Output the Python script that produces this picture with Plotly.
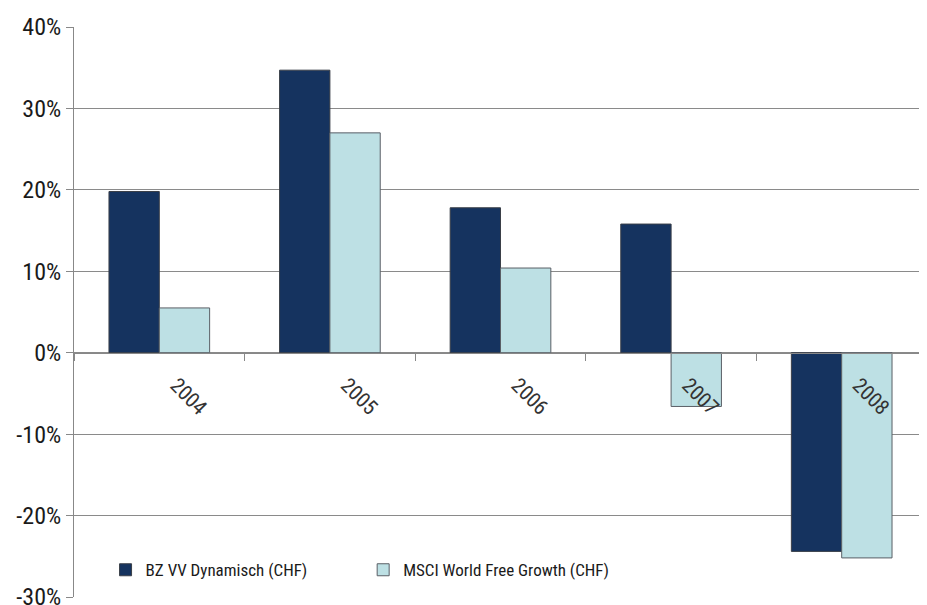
import plotly.graph_objects as go

years = ["2004", "2005", "2006", "2007", "2008"]
bz_values = [19.8, 34.7, 17.8, 15.8, -24.4]
msci_values = [5.5, 27.0, 10.4, -6.6, -25.2]
series_names = ["BZ VV Dynamisch (CHF)", "MSCI World Free Growth (CHF)"]
y_ticks = [-30, -20, -10, 0, 10, 20, 30, 40]
y_tick_labels = [f"{v}%" for v in y_ticks]

FONT = "Roboto Condensed"

fig = go.Figure()
fig.add_trace(go.Bar(x=years, y=bz_values, name=series_names[0], legend="legend",
                     marker=dict(color="#15335f", line=dict(color="#3a3f48", width=1))))
fig.add_trace(go.Bar(x=years, y=msci_values, name=series_names[1], legend="legend2",
                     marker=dict(color="#bde0e4", line=dict(color="#5a5f66", width=1))))

ymin, ymax = -30, 40
leg_common = dict(orientation="h", yanchor="middle", xanchor="left", y=0.047,
                  font=dict(size=17, family=FONT, color="#1a1a1a"),
                  bgcolor="rgba(0,0,0,0)", itemwidth=30)
fig.update_layout(
    width=919, height=597,
    margin=dict(l=66, r=0, t=19, b=8, autoexpand=False),
    paper_bgcolor="white", plot_bgcolor="white",
    barmode="group", bargap=0.41, bargroupgap=0,
    font=dict(family=FONT, color="#1a1a1a"),
    showlegend=True,
    legend=dict(x=0.037, **leg_common),
    legend2=dict(x=0.339, **leg_common),
    xaxis=dict(type="category", anchor="free",
               position=(0 - ymin) / (ymax - ymin),
               showline=True, linecolor="#888", linewidth=1,
               ticks="outside", ticklen=7, tickcolor="#888", tickson="boundaries",
               tickangle=45, tickfont=dict(size=21, family=FONT, color="#333"),
               ticklabelshift=17, ticklabelstandoff=11, automargin=False,
               showgrid=False, zeroline=False),
    yaxis=dict(range=[ymin, ymax], tickvals=y_ticks, ticktext=y_tick_labels,
               showgrid=True, gridcolor="#8a8a8a", gridwidth=1,
               showline=True, linecolor="#888", linewidth=1,
               ticks="outside", ticklen=7, tickcolor="#888",
               tickfont=dict(size=24, family=FONT, color="#1a1a1a"),
               ticklabeloverflow="allow",
               automargin=False, zeroline=False),
)
fig.write_html("out.html")
